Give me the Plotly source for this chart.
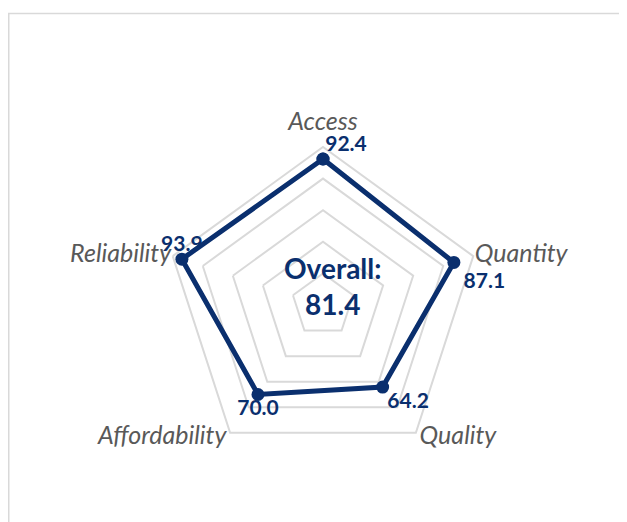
import plotly.graph_objects as go

categories = ["Access", "Quantity", "Quality", "Affordability", "Reliability"]
scores = [92.4, 87.1, 64.2, 70.0, 93.9]
overall = 81.4
value_positions = ["top right", "bottom right", "bottom right", "bottom center", "top center"]
value_gap = [2, 14, 6, 6, 3]
label_radius = [115, 101, 104, 104, 101]
label_positions = ["middle center", "middle right", "middle right", "middle left", "middle left"]
ring_ticks = [20, 40, 60, 80, 100]
r_max = 118

NAVY = "#0a2f6e"
W, H = 627, 522
cx, cy, R100 = 315, 297, 158
R = R100 * r_max / 100

fig = go.Figure()
fig.add_trace(go.Scatterpolar(
    r=scores + [scores[0]],
    theta=categories + [categories[0]],
    mode="lines+markers",
    line=dict(color=NAVY, width=5),
    marker=dict(color=NAVY, size=13),
    cliponaxis=False,
    hoverinfo="skip",
))
fig.add_trace(go.Scatterpolar(
    r=scores,
    theta=categories,
    mode="markers+text",
    marker=dict(size=value_gap, opacity=0),
    text=[f"<b>{v:.1f}</b>" for v in scores],
    textposition=value_positions,
    textfont=dict(family="Lato", size=21, color=NAVY),
    cliponaxis=False,
    hoverinfo="skip",
))
fig.add_trace(go.Scatterpolar(
    r=label_radius,
    theta=categories,
    mode="text",
    text=categories,
    textposition=label_positions,
    textfont=dict(family="Lato", size=25, color="#595959", style="italic"),
    cliponaxis=False,
    hoverinfo="skip",
))

fig.update_layout(
    width=W, height=H,
    margin=dict(l=0, r=0, t=0, b=0),
    paper_bgcolor="white",
    showlegend=False,
    polar=dict(
        domain=dict(x=[(cx - R) / W, (cx + R) / W], y=[(H - cy - R) / H, (H - cy + R) / H]),
        bgcolor="rgba(0,0,0,0)",
        gridshape="linear",
        radialaxis=dict(range=[0, r_max], tickvals=ring_ticks, showticklabels=False,
                        showline=False, ticks="", gridcolor="#d9d9d9", gridwidth=1.5),
        angularaxis=dict(rotation=90, direction="clockwise", showgrid=False,
                         showline=False, ticks="", showticklabels=False),
    ),
    shapes=[dict(type="rect", xref="paper", yref="paper",
                 x0=0.75 / W, x1=1.2, y0=-0.2, y1=(H - 5.5) / H,
                 line=dict(color="#d9d9d9", width=1.5), fillcolor="rgba(0,0,0,0)")],
    annotations=[dict(
        x=324 / W, y=(H - 278) / H, xref="paper", yref="paper",
        text=f"<b>Overall:<br>{overall:.1f}</b>", showarrow=False,
        font=dict(family="Lato", size=28, color=NAVY),
        align="center",
    )],
)

fig.write_html("out.html")
